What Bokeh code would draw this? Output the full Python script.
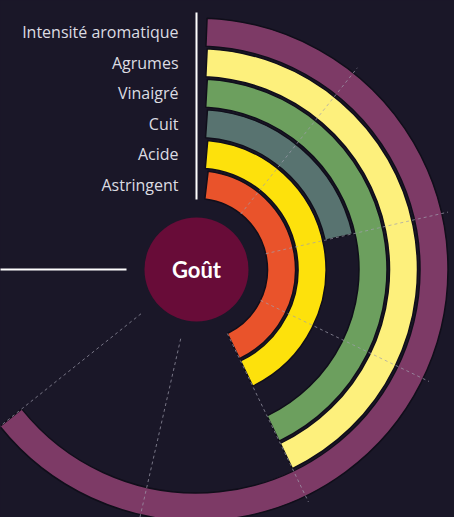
import numpy as np
from bokeh.plotting import figure
from bokeh.models import ColumnDataSource, Range1d
from bokeh.core.properties import value
from bokeh.embed import file_html
from bokeh.resources import INLINE

# ---- data (innermost ring first) ----
categories = ["Astringent", "Acide", "Cuit", "Vinaigré", "Agrumes", "Intensité aromatique"]
scores = [4, 4, 2, 4, 4, 6]
colors = ["#e9532b", "#fde10c", "#587370", "#6c9f5e", "#fdf07c", "#7d3a66"]
scale_max = 7
tick_values = [1, 2, 3, 4, 5, 6]
center_label = "Goût"

# ---- layout / style ----
BG = "#1a1728"
CX, CY = 196, 269          # centre position on the page
W, H = 454, 517
R0, BAND, PITCH = 71, 28, 30.5
PAD = 10                   # linear gap at the start of each ring
SWEEP = 1.5 * np.pi        # 270 degrees for the full scale

def ang(v):
    return np.pi / 2 - np.asarray(v, dtype=float) / scale_max * SWEEP

p = figure(width=W, height=H,
           x_range=Range1d(-CX, W - CX),
           y_range=Range1d(CY - H, CY),
           output_backend="svg", toolbar_location=None, min_border=0,
           background_fill_color=BG, border_fill_color=BG,
           outline_line_color=None)
p.axis.visible = False
p.grid.visible = False

n = len(categories)
inner = R0 + PITCH * np.arange(n)
outer = inner + BAND
mid = (inner + outer) / 2
start = np.pi / 2 - np.arcsin(PAD / mid)
end = ang(scores)

src = ColumnDataSource(dict(cat=categories, inner=inner, outer=outer,
                            start=start, end=end, color=colors, mid=mid,
                            lx=np.full(n, -18.0)))
p.annular_wedge(x=0, y=0, inner_radius="inner", outer_radius="outer",
                start_angle="start", end_angle="end", direction="clock",
                fill_color="color", line_color="#100e1a", line_width=1.5,
                source=src)

# dashed radial grid lines at the tick values
ta = ang(tick_values)
r_in, r_out = 71, 258
p.segment(x0=r_in * np.cos(ta), y0=r_in * np.sin(ta),
          x1=r_out * np.cos(ta), y1=r_out * np.sin(ta),
          line_color="#a09eae", line_alpha=0.7, line_width=1,
          line_dash="3 3")

# white axis lines at 0 and at full scale
aa = ang([0, scale_max])
p.segment(x0=70 * np.cos(aa), y0=70 * np.sin(aa),
          x1=257 * np.cos(aa), y1=257 * np.sin(aa),
          line_color="white", line_width=2)

# ring labels
p.text(x="lx", y="mid", text="cat", source=src, text_align="right",
       text_baseline="middle", text_color="#dcdce2", text_font_size="16px",
       text_font=value("Open Sans"))

# centre
p.circle(x=[0], y=[0], radius=52, fill_color="#680c38", line_color=None)
p.text(x=[0], y=[0], text=[center_label], text_align="center",
       text_baseline="middle", text_color="white", text_font_size="22px",
       text_font=value("Lato"), text_font_style="bold")

open("out.html", "w").write(file_html(p, INLINE).replace(
    "<body>", '<body style="background:#1a1728">'))
